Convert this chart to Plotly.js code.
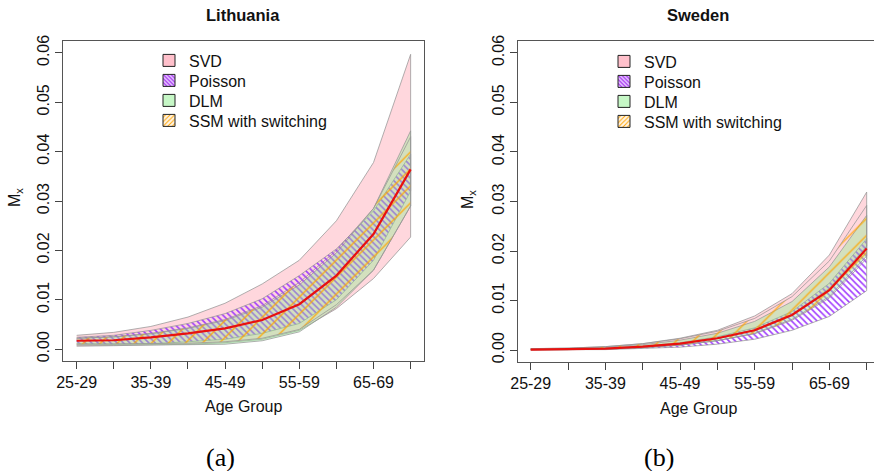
<!DOCTYPE html>
<html>
<head>
<meta charset="utf-8">
<script src="https://cdn.plot.ly/plotly-3.0.1.min.js"></script>
<style>html,body{margin:0;padding:0;background:#fff}#chart{width:874px;height:471px}</style>
</head>
<body>
<div id="chart"></div>
<script>
// ---- data ----
const ageGroups = ["25-29","30-34","35-39","40-44","45-49","50-54","55-59","60-64","65-69","70-74"];
const labelledAgeIdx = [0, 2, 4, 6, 8];   // R drops every other label (overlap)
const yTicks = [0, 0.01, 0.02, 0.03, 0.04, 0.05, 0.06];
const modelNames = ["SVD", "Poisson", "DLM", "SSM with switching"];

// Lithuania
const ltSvdUpper     = [0.0028,0.0034,0.0046,0.0065,0.0093,0.0132,0.0180,0.0260,0.0378,0.0597];
const ltSvdLower     = [0.0006,0.0007,0.0008,0.0010,0.0013,0.0020,0.0038,0.0082,0.0143,0.0227];
const ltPoissonUpper = [0.0024,0.0028,0.0038,0.0052,0.0072,0.0102,0.0149,0.0203,0.0280,0.0395];
const ltPoissonLower = [0.0011,0.0010,0.0011,0.0015,0.0020,0.0032,0.0052,0.0100,0.0180,0.0320];
const ltDlmUpper     = [0.0022,0.0025,0.0031,0.0042,0.0058,0.0085,0.0130,0.0195,0.0285,0.0442];
const ltDlmLower     = [0.0008,0.0008,0.0008,0.0009,0.0010,0.0017,0.0035,0.0085,0.0160,0.0290];
const ltSsmUpper     = [0.0022,0.0025,0.0032,0.0043,0.0060,0.0088,0.0135,0.0200,0.0285,0.0430];
const ltSsmLower     = [0.0010,0.0010,0.0011,0.0012,0.0015,0.0022,0.0040,0.0090,0.0160,0.0290];
const ltMedian       = [0.0017,0.0018,0.0024,0.0032,0.0042,0.0059,0.0091,0.0149,0.0233,0.0364];

// Sweden
const seSvdUpper     = [0.0003,0.0004,0.0007,0.0013,0.0024,0.0040,0.0069,0.0114,0.0192,0.0319];
const seSvdLower     = [0.0001,0.0001,0.0003,0.0006,0.0012,0.0024,0.0041,0.0072,0.0125,0.0210];
const sePoissonUpper = [0.0002,0.0003,0.0004,0.0008,0.0015,0.0027,0.0045,0.0078,0.0135,0.0225];
const sePoissonLower = [0.0000,0.0001,0.0001,0.0003,0.0006,0.0012,0.0022,0.0040,0.0068,0.0120];
const seDlmUpper     = [0.0002,0.0003,0.0006,0.0011,0.0020,0.0034,0.0058,0.0098,0.0168,0.0272];
const seDlmLower     = [0.0001,0.0001,0.0002,0.0005,0.0010,0.0019,0.0034,0.0062,0.0108,0.0190];
const seSsmUpper     = [0.0003,0.0004,0.0007,0.0013,0.0023,0.0038,0.0064,0.0108,0.0180,0.0292];
const seSsmLower     = [0.0001,0.0001,0.0002,0.0005,0.0010,0.0019,0.0033,0.0060,0.0105,0.0185];
const seMedian       = [0.0001,0.0002,0.0003,0.0007,0.0013,0.0024,0.0040,0.0071,0.0121,0.0205];

// ---- styles ----
const W = 874, H = 471;
const FONT = "Liberation Sans, Arial, sans-serif";
const borderCol = "rgba(150,150,150,0.75)";
const styles = {
  "SVD": {fillcolor: "rgba(255,182,193,0.55)"},
  "Poisson": {fillcolor: "rgba(0,0,0,0)", pattern: {shape: "\\", fgcolor: "rgba(155,48,255,0.95)", bgcolor: "rgba(0,0,0,0)", size: 4.5, solidity: 0.35}},
  "DLM": {fillcolor: "rgba(144,238,144,0.4)"},
  "SSM with switching": {fillcolor: "rgba(0,0,0,0)", pattern: {shape: "/", fgcolor: "rgba(255,165,0,0.9)", bgcolor: "rgba(0,0,0,0)", size: 12, solidity: 0.11}}
};
const legendSwatch = {
  "SVD": {color: "#ffc0cb", pattern: {shape: ""}},
  "Poisson": {color: "#e6ccff", pattern: {shape: "\\", fgcolor: "#a020f0", bgcolor: "#e6ccff", size: 3.5, solidity: 0.4}},
  "DLM": {color: "#c6f7c6", pattern: {shape: ""}},
  "SSM with switching": {color: "#ffe4c0", pattern: {shape: "/", fgcolor: "#ffa500", bgcolor: "#fff4e6", size: 4, solidity: 0.3}}
};

const idx = ageGroups.map((g, i) => i);

function band(upper, lower, name, xa, ya) {
  const st = styles[name];
  const tr = {
    type: "scatter", mode: "lines", name: name, showlegend: false,
    x: idx.concat(idx.slice().reverse()),
    y: upper.concat(lower.slice().reverse()),
    fill: "toself", fillcolor: st.fillcolor,
    line: {color: borderCol, width: 1},
    xaxis: xa, yaxis: ya, hoverinfo: "skip"
  };
  if (st.pattern) tr.fillpattern = st.pattern;
  return tr;
}
function legendItem(name, xa, ya, lg) {
  const s = legendSwatch[name];
  return {type: "bar", name: name, x: [null], y: [null], xaxis: xa, yaxis: ya, legend: lg,
    marker: {color: s.color, pattern: s.pattern, line: {color: "#222", width: 1}}, showlegend: true, hoverinfo: "skip"};
}

const px = v => v / W, py = v => 1 - v / H;
const panels = [
  {xa: "x", ya: "y", legX: 149, rowY: [61, 81, 101, 121], bands: [[ltSvdUpper, ltSvdLower], [ltPoissonUpper, ltPoissonLower], [ltDlmUpper, ltDlmLower], [ltSsmUpper, ltSsmLower]], med: ltMedian},
  {xa: "x2", ya: "y2", legX: 604, rowY: [62, 82, 102, 122], bands: [[seSvdUpper, seSvdLower], [sePoissonUpper, sePoissonLower], [seDlmUpper, seDlmLower], [seSsmUpper, seSsmLower]], med: seMedian}
];
const legendBase = {bgcolor: "rgba(0,0,0,0)", borderwidth: 0, xanchor: "left", yanchor: "top", xref: "paper", yref: "paper",
  font: {family: FONT, size: 16, color: "#111"}, itemclick: false};

const traces = [];
const legends = {};
let legN = 0;
panels.forEach(p => {
  p.bands.forEach((b, k) => traces.push(band(b[0], b[1], modelNames[k], p.xa, p.ya)));
  traces.push({type: "scatter", mode: "lines", x: idx, y: p.med, line: {color: "#e8110f", width: 2.2}, xaxis: p.xa, yaxis: p.ya, showlegend: false, hoverinfo: "skip"});
  modelNames.forEach((n, k) => {
    legN += 1;
    const key = legN === 1 ? "legend" : "legend" + legN;
    traces.push(legendItem(n, p.xa, p.ya, key));
    legends[key] = Object.assign({}, legendBase, {x: px(p.legX), y: py(p.rowY[k] - 17.5)});
  });
});

const xBase = {
  tickmode: "array", tickvals: labelledAgeIdx, ticktext: labelledAgeIdx.map(i => ageGroups[i]),
  ticks: "outside", ticklen: 7, tickcolor: "#444", tickwidth: 1,
  minor: {tickmode: "linear", tick0: 0, dtick: 1, ticks: "outside", ticklen: 7, tickcolor: "#444", tickwidth: 1, showgrid: false},
  showline: true, linecolor: "#555", linewidth: 1, mirror: true,
  showgrid: false, zeroline: false, automargin: false,
  tickfont: {family: FONT, size: 16, color: "#111"}
};
const yBase = {
  tickmode: "array", tickvals: yTicks, tickformat: ".2f", tickangle: -90,
  ticks: "outside", ticklen: 7, tickcolor: "#444", tickwidth: 1,
  showline: true, linecolor: "#555", linewidth: 1, mirror: true,
  showgrid: false, zeroline: false, automargin: false,
  range: [-0.0024, 0.0624],
  tickfont: {family: FONT, size: 16, color: "#111"}
};

const ann = (text, x, y, size, extra) => Object.assign({text: text, x: px(x), y: py(y), xref: "paper", yref: "paper",
  xanchor: "center", yanchor: "middle", showarrow: false, font: {family: FONT, size: size, color: "#111"}}, extra || {});

const layout = Object.assign({
  width: W, height: H, margin: {l: 0, r: 0, t: 0, b: 0},
  paper_bgcolor: "#fff", plot_bgcolor: "#fff", showlegend: true, barmode: "overlay",
  xaxis: Object.assign({}, xBase, {domain: [px(63.3), px(424)], range: [-0.36, 9.36], anchor: "y"}),
  yaxis: Object.assign({}, yBase, {domain: [py(361), py(41)], anchor: "x"}),
  xaxis2: Object.assign({}, xBase, {domain: [px(518), 1], range: [-0.34, 9.196], anchor: "y2"}),
  yaxis2: Object.assign({}, yBase, {domain: [py(362), py(41)], anchor: "x2", mirror: false}),
  annotations: [
    ann("<b>Lithuania</b>", 243, 15, 16.5),
    ann("<b>Sweden</b>", 698, 15, 16.5),
    ann("Age Group", 243, 406, 16),
    ann("Age Group", 698, 408, 16),
    ann("M<sub>x</sub>", 15, 198, 16, {textangle: -90}),
    ann("M<sub>x</sub>", 468, 200, 16, {textangle: -90}),
    ann("(a)", 220, 457, 26, {font: {family: "Liberation Serif, Times New Roman, serif", size: 26, color: "#000"}}),
    ann("(b)", 659, 457, 26, {font: {family: "Liberation Serif, Times New Roman, serif", size: 26, color: "#000"}})
  ]
}, legends);

Plotly.newPlot("chart", traces, layout, {staticPlot: true, displayModeBar: false});
</script>
</body>
</html>
